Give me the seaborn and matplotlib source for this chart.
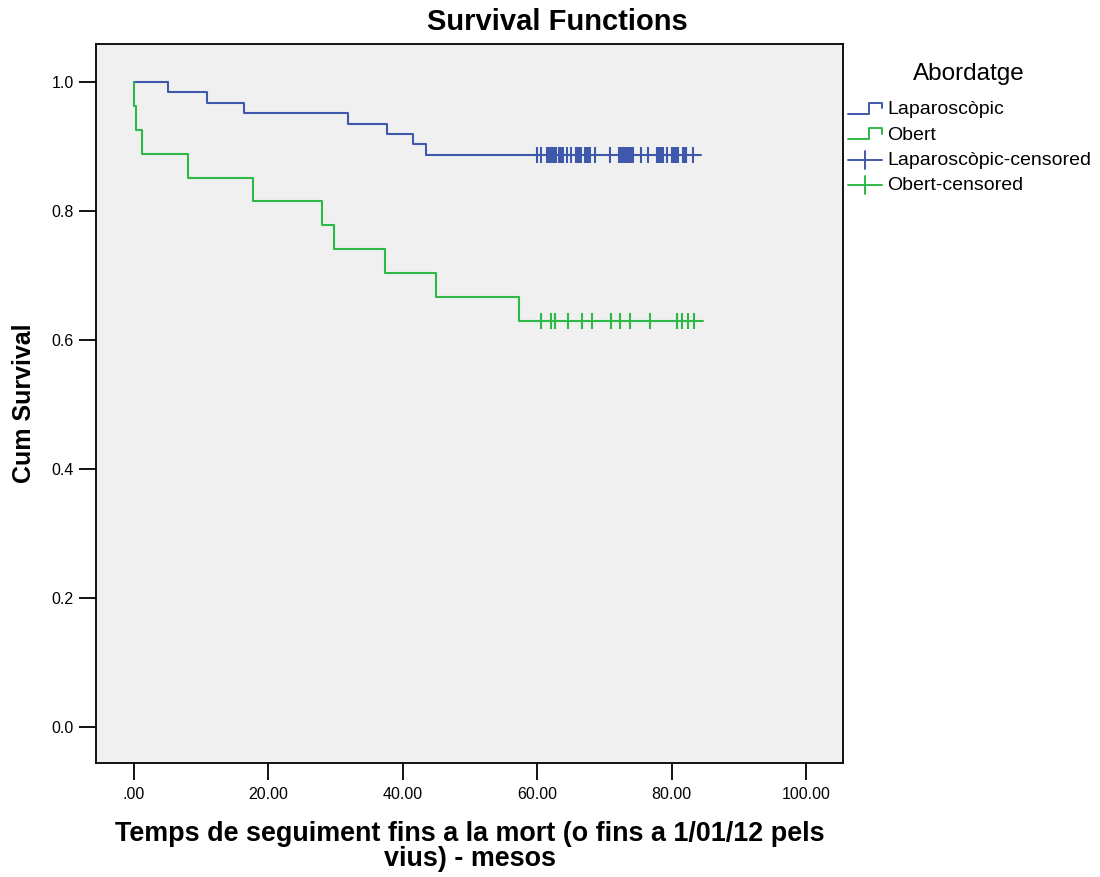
import numpy as np
import pandas as pd
import matplotlib
matplotlib.use("Agg")
import matplotlib.pyplot as plt
import seaborn as sns
from matplotlib.legend_handler import HandlerBase
from matplotlib.lines import Line2D

# Follow-up data (months) by surgical approach
groups = ["Laparoscòpic", "Obert"]
colors = ["#3E58AC", "#2EB848"]

lap_death_times = [5.0, 10.8, 16.4, 31.9, 37.7, 41.5, 43.4]
lap_censored = [59.9, 60.5, 61.4, 61.7, 62.0, 62.1, 62.3, 62.6, 62.8, 63.2,
                63.6, 63.9, 64.4, 65.0, 65.8, 66.0, 66.1, 66.2, 66.5, 67.1,
                67.3, 67.5, 67.6, 67.7, 67.9, 68.6, 70.8, 72.1, 72.3, 72.5,
                72.8, 73.0, 73.2, 73.3, 73.5, 73.7, 74.0, 74.3, 75.5, 76.5,
                77.8, 78.1, 78.4, 78.7, 79.3, 80.0, 80.3, 80.5, 80.6, 81.0,
                81.7, 82.0, 82.1, 82.2, 83.2]
lap_followup_end = 84.4

obert_death_times = [0.0, 0.25, 1.2, 8.0, 17.7, 27.9, 29.7, 37.4, 45.0, 57.3]
obert_censored = [60.6, 62.05, 62.6, 62.6, 64.6, 66.6, 68.2, 71.0, 71.0, 72.3,
                  73.8, 76.8, 80.8, 80.8, 81.5, 82.4, 83.3]
obert_followup_end = 84.6

x_ticks = [0, 20, 40, 60, 80, 100]
x_tick_labels = [".00", "20.00", "40.00", "60.00", "80.00", "100.00"]
y_ticks = [0.0, 0.2, 0.4, 0.6, 0.8, 1.0]
y_tick_labels = ["0.0", "0.2", "0.4", "0.6", "0.8", "1.0"]


def kaplan_meier(deaths, censored, end):
    """Return step points (time, survival) and survival at censored times."""
    deaths = np.sort(np.asarray(deaths, float))
    censored = np.sort(np.asarray(censored, float))
    n = len(deaths) + len(censored)
    all_times = np.concatenate([deaths, censored])
    s = 1.0
    pts = [(0.0, 1.0)]
    for t in np.unique(deaths):
        at_risk = n - np.sum(all_times < t)
        d = np.sum(deaths == t)
        s *= 1 - d / at_risk
        pts.append((t, s))
    pts.append((end, s))

    def surv_at(t):
        val = 1.0
        for tt, ss in pts:
            if tt <= t:
                val = ss
        return val

    cens_s = [surv_at(t) for t in censored]
    return pts, list(zip(censored, cens_s))


curve_rows, cens_rows = [], []
for g, dt, ct, end in [(groups[0], lap_death_times, lap_censored, lap_followup_end),
                       (groups[1], obert_death_times, obert_censored, obert_followup_end)]:
    pts, cens = kaplan_meier(dt, ct, end)
    for i, (t, s) in enumerate(pts):
        curve_rows.append({"group": g, "order": i, "time": t, "surv": s})
    for t, s in cens:
        cens_rows.append({"group": g, "time": t, "surv": s})

curves = pd.DataFrame(curve_rows)
cens_df = pd.DataFrame(cens_rows)

sns.set_style("ticks")
plt.rcParams["font.family"] = ["Liberation Sans", "DejaVu Sans"]
plt.rcParams.update({"text.color": "black", "axes.labelcolor": "black",
                     "xtick.color": "black", "ytick.color": "black"})

fig = plt.figure(figsize=(11, 8.77), dpi=100)
ax = fig.add_axes([0.0873, 0.130, 0.6791, 0.8198])
ax.set_facecolor("#F0F0F0")

palette = dict(zip(groups, colors))
sns.lineplot(data=curves, x="time", y="surv", hue="group", units="group",
             estimator=None, sort=False, palette=palette, drawstyle="steps-post",
             linewidth=1.5, legend=False, ax=ax)
sns.scatterplot(data=cens_df, x="time", y="surv", hue="group", palette=palette,
                marker="|", s=130, linewidth=1.5, legend=False, ax=ax, zorder=3)

ax.set_xlim(-5.65, 105.5)
ax.set_ylim(-0.056, 1.059)
ax.set_xticks(x_ticks)
ax.set_xticklabels(x_tick_labels)
ax.set_yticks(y_ticks)
ax.set_yticklabels(y_tick_labels)
ax.tick_params(axis="x", bottom=True, direction="out", length=12, width=1.3,
               labelsize=11.5, pad=5)
ax.tick_params(axis="y", left=True, direction="out", length=12, width=1.3,
               labelsize=11.5, pad=4)
for sp in ax.spines.values():
    sp.set_visible(True)
    sp.set_color("black")
    sp.set_linewidth(1.3)

ax.set_xlabel("Temps de seguiment fins a la mort (o fins a 1/01/12 pels\nvius) - mesos",
              fontsize=19.4, fontweight="bold", labelpad=14, linespacing=0.97)
ax.set_ylabel("Cum Survival", fontsize=18, fontweight="bold", labelpad=11)
fig.text(0.507, 0.975, "Survival Functions", ha="center", va="center",
         fontsize=21, fontweight="bold")


class StepHandler(HandlerBase):
    def create_artists(self, legend, orig_handle, xdescent, ydescent,
                       width, height, fontsize, trans):
        x0, y0 = -xdescent, -ydescent
        xs = [x0, x0 + 0.62 * width, x0 + 0.62 * width, x0 + width, x0 + width]
        ys = [y0 + 0.05 * height, y0 + 0.05 * height, y0 + 0.85 * height,
              y0 + 0.85 * height, y0 + 0.45 * height]
        ln = Line2D(xs, ys, color=orig_handle.get_color(), lw=1.4, transform=trans)
        return [ln]


class CensHandler(HandlerBase):
    def create_artists(self, legend, orig_handle, xdescent, ydescent,
                       width, height, fontsize, trans):
        x0, y0 = -xdescent, -ydescent
        h = Line2D([x0, x0 + width], [y0 + 0.4 * height] * 2,
                   color=orig_handle.get_color(), lw=1.4, transform=trans)
        v = Line2D([x0 + 0.5 * width] * 2, [y0 - 0.25 * height, y0 + 1.05 * height],
                   color=orig_handle.get_color(), lw=1.4, transform=trans)
        return [h, v]


class StepKey(Line2D):
    pass


class CensKey(Line2D):
    pass


handles = [StepKey([], [], color=colors[0]), StepKey([], [], color=colors[1]),
           CensKey([], [], color=colors[0]), CensKey([], [], color=colors[1])]
labels = [groups[0], groups[1], groups[0] + "-censored", groups[1] + "-censored"]
leg = ax.legend(handles, labels, title="Abordatge", loc="upper left",
                bbox_to_anchor=(1.006, 0.973), frameon=False, fontsize=14,
                title_fontsize=17.5, handlelength=1.75, handletextpad=0.28,
                labelspacing=0.40, borderaxespad=0.0, borderpad=0.0,
                handler_map={StepKey: StepHandler(), CensKey: CensHandler()})
leg._legend_box.align = "center"
leg._legend_box.sep = 11

fig.savefig("out.png", dpi=100, facecolor="white")
